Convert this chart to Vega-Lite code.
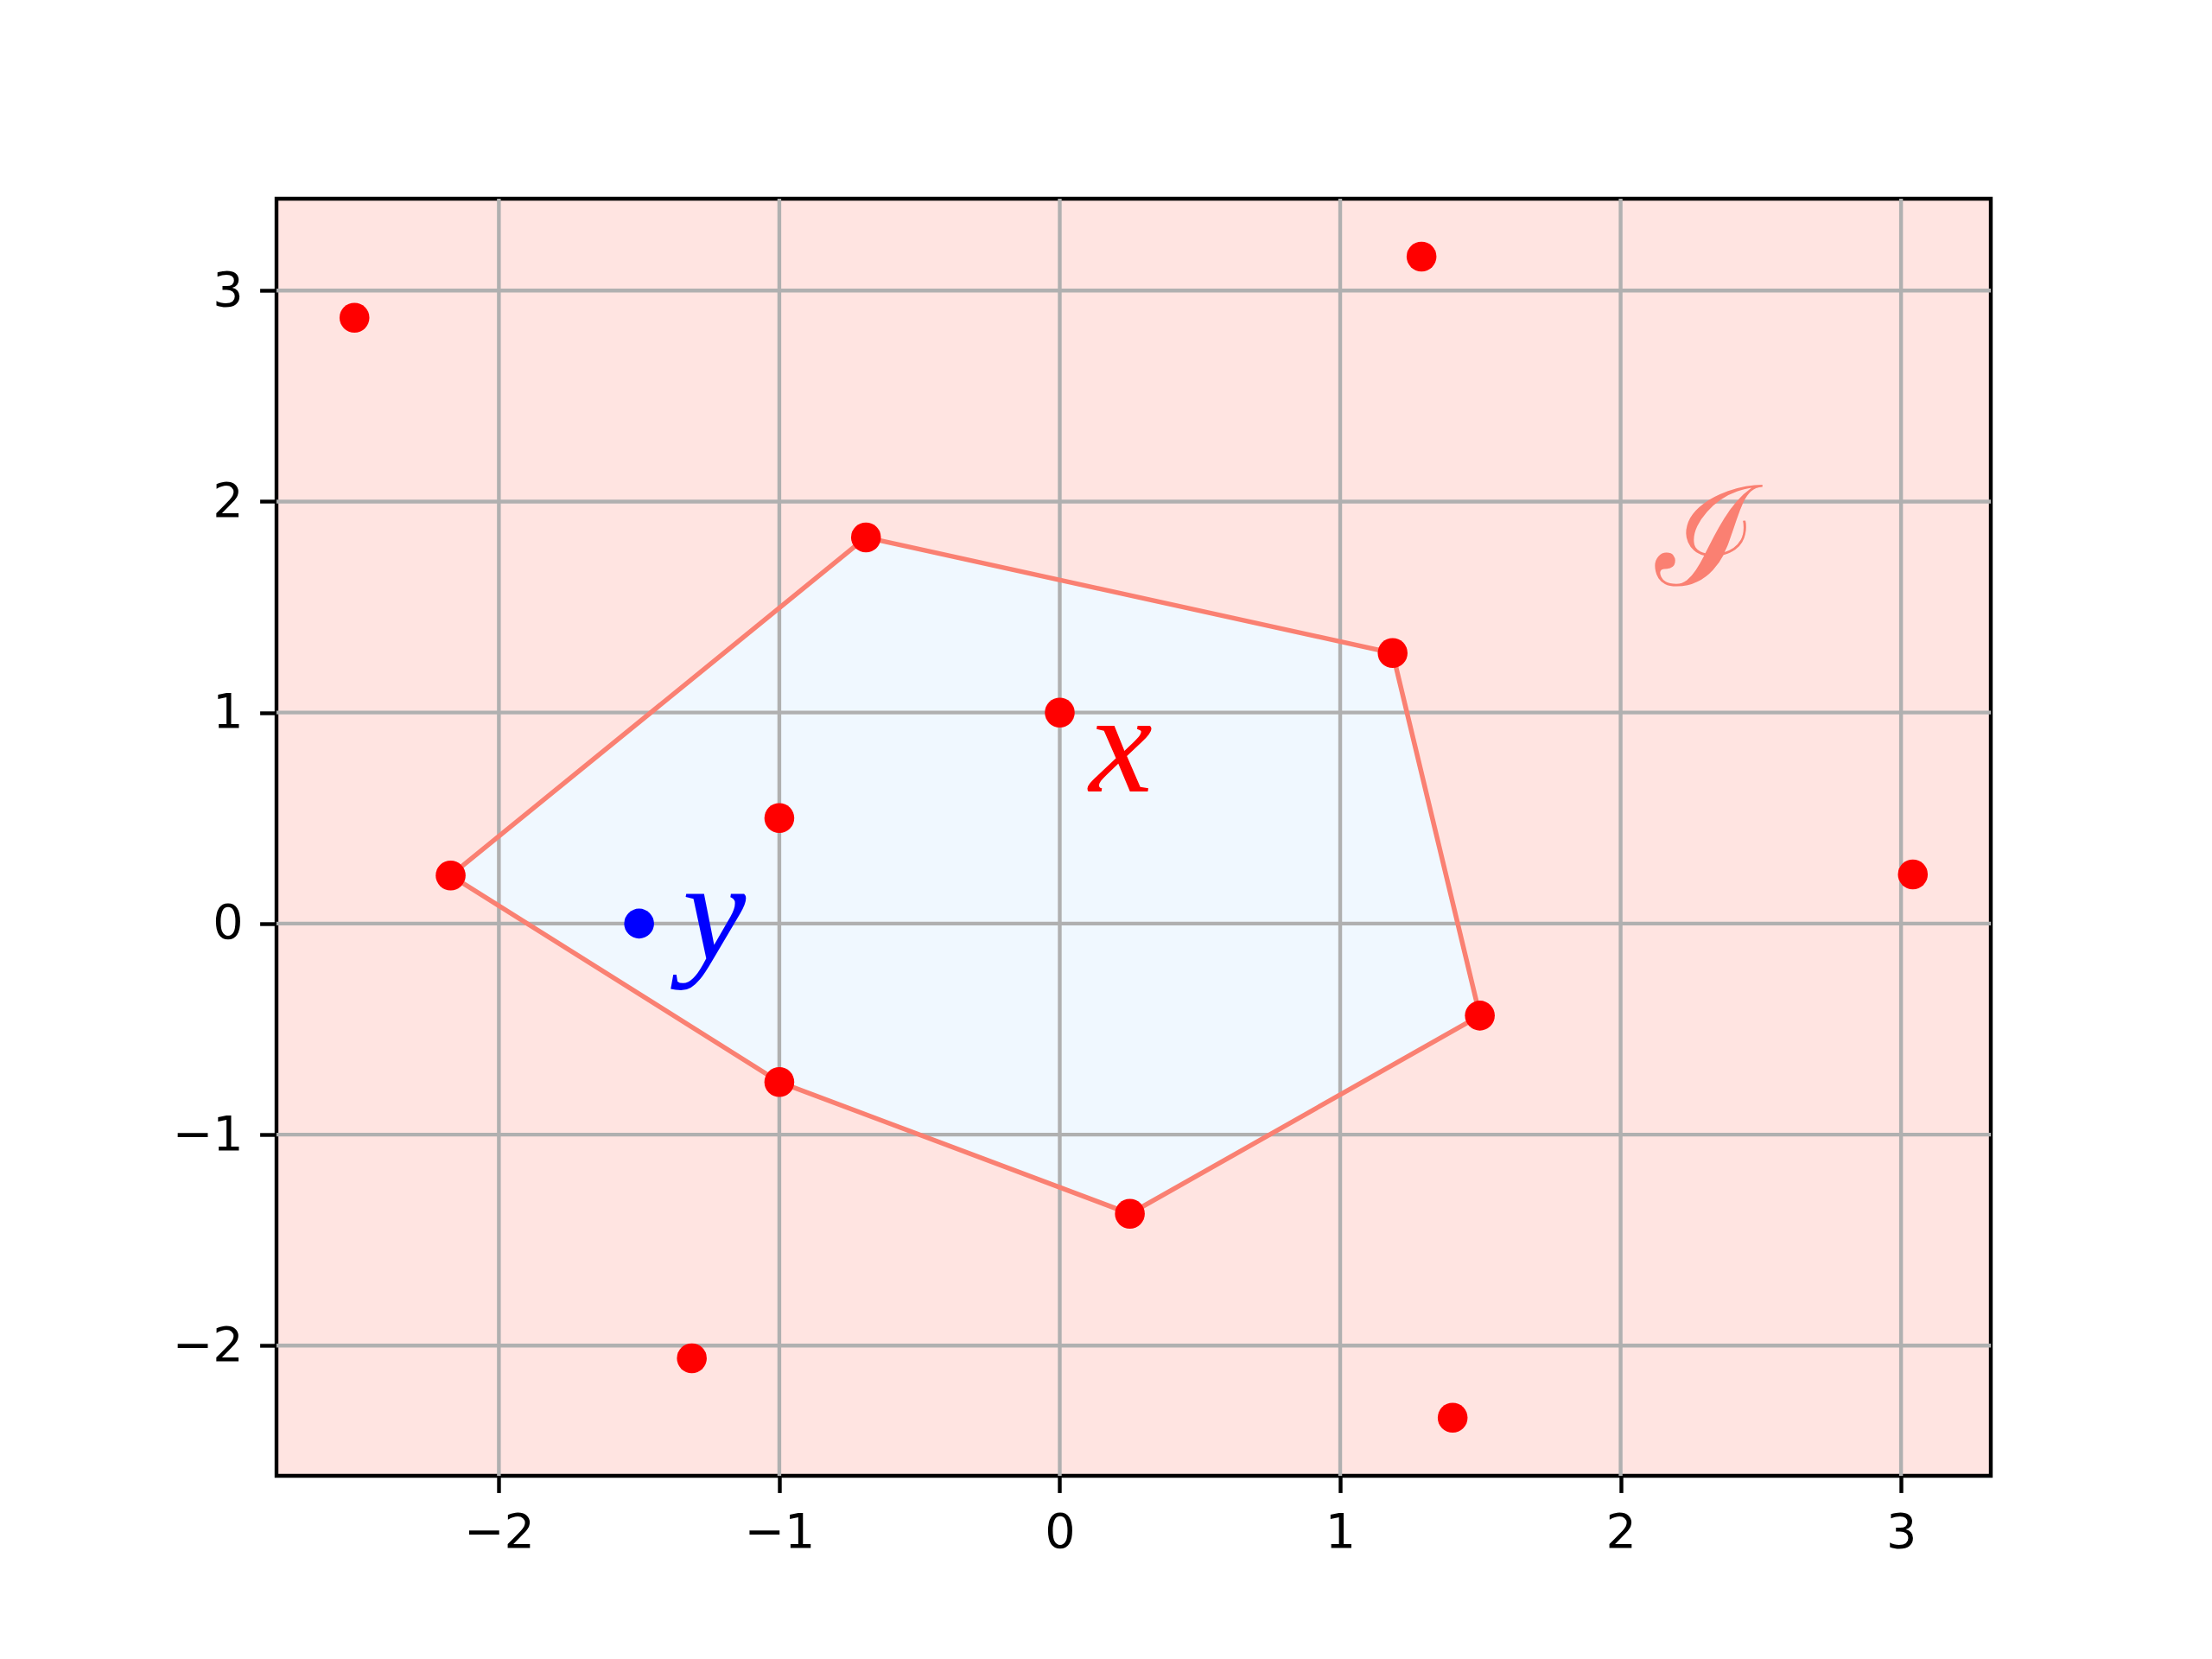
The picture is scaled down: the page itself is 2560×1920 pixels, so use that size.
{
  "$schema": "https://vega.github.io/schema/vega-lite/v6.json",
  "width": 1984,
  "height": 1478,
  "autosize": {"type": "none"},
  "padding": {"left": 320, "top": 230, "right": 256, "bottom": 212},
  "background": "white",
  "config": {
    "view": {"fill": "#FFE4E1", "stroke": "black", "strokeWidth": 4.4},
    "axis": {
      "grid": false,
      "domain": false,
      "ticks": true,
      "tickSize": 19.4,
      "tickWidth": 4.4,
      "tickColor": "black",
      "labelFont": "DejaVu Sans",
      "labelFontSize": 55.6,
      "labelColor": "black",
      "labelPadding": 19.4,
      "format": "d",
      "title": null
    }
  },
  "datasets": {
    "hull": [
      {"order": 1, "x": -0.691, "y": 1.830},
      {"order": 2, "x": 1.187, "y": 1.282},
      {"order": 3, "x": 1.498, "y": -0.436},
      {"order": 4, "x": 0.250, "y": -1.375},
      {"order": 5, "x": -1.000, "y": -0.751},
      {"order": 6, "x": -2.172, "y": 0.228},
      {"order": 7, "x": -0.691, "y": 1.830}
    ],
    "points": [
      {"x": -2.515, "y": 2.871, "set": "I"},
      {"x": 1.290, "y": 3.161, "set": "I"},
      {"x": -0.691, "y": 1.830, "set": "I"},
      {"x": 1.187, "y": 1.282, "set": "I"},
      {"x": 0.0, "y": 1.0, "set": "I"},
      {"x": -1.0, "y": 0.5, "set": "I"},
      {"x": -2.172, "y": 0.228, "set": "I"},
      {"x": 3.042, "y": 0.233, "set": "I"},
      {"x": 1.498, "y": -0.436, "set": "I"},
      {"x": -1.0, "y": -0.751, "set": "I"},
      {"x": 0.250, "y": -1.375, "set": "I"},
      {"x": -1.312, "y": -2.060, "set": "I"},
      {"x": 1.401, "y": -2.342, "set": "I"},
      {"x": -1.5, "y": 0.0, "set": "y"}
    ],
    "grid": [
      {"v": -2}, {"v": -1}, {"v": 0}, {"v": 1}, {"v": 2}, {"v": 3}
    ],
    "labels": [
      {"x": 0.218, "y": 0.627, "text": "x"},
      {"x": -1.232, "y": -0.171, "text": "y"},
      {"x": 2.307, "y": 1.606, "text": "ℐ"}
    ]
  },
  "layer": [
    {
      "data": {"name": "hull"},
      "mark": {"type": "line", "fill": "#F0F8FF", "stroke": null, "strokeWidth": 0},
      "encoding": {
        "x": {"field": "x", "type": "quantitative", "scale": {"domain": [-2.793, 3.320], "nice": false, "zero": false}, "axis": {"values": [-2, -1, 0, 1, 2, 3]}},
        "y": {"field": "y", "type": "quantitative", "scale": {"domain": [-2.617, 3.435], "nice": false, "zero": false}, "axis": {"values": [-2, -1, 0, 1, 2, 3]}},
        "order": {"field": "order", "type": "quantitative"}
      }
    },
    {
      "data": {"name": "grid"},
      "mark": {"type": "rule", "color": "#b0b0b0", "strokeWidth": 4.4},
      "encoding": {"x": {"field": "v", "type": "quantitative"}}
    },
    {
      "data": {"name": "grid"},
      "mark": {"type": "rule", "color": "#b0b0b0", "strokeWidth": 4.4},
      "encoding": {"y": {"field": "v", "type": "quantitative"}}
    },
    {
      "data": {"name": "hull"},
      "mark": {"type": "line", "color": "#FA8072", "strokeWidth": 5.5},
      "encoding": {
        "x": {"field": "x", "type": "quantitative"},
        "y": {"field": "y", "type": "quantitative"},
        "order": {"field": "order", "type": "quantitative"}
      }
    },
    {
      "data": {"name": "points"},
      "mark": {"type": "circle", "size": 1195, "opacity": 1},
      "encoding": {
        "x": {"field": "x", "type": "quantitative"},
        "y": {"field": "y", "type": "quantitative"},
        "color": {"field": "set", "type": "nominal", "scale": {"domain": ["I", "y"], "range": ["#FF0000", "#0000FF"]}, "legend": null}
      }
    },
    {
      "data": {"name": "labels"},
      "transform": [{"filter": "datum.text === 'x'"}],
      "mark": {"type": "text", "font": "Liberation Serif", "fontStyle": "italic", "fontSize": 165, "color": "#FF0000", "align": "center", "baseline": "alphabetic"},
      "encoding": {
        "x": {"field": "x", "type": "quantitative"},
        "y": {"field": "y", "type": "quantitative"},
        "text": {"field": "text"}
      }
    },
    {
      "data": {"name": "labels"},
      "transform": [{"filter": "datum.text === 'y'"}],
      "mark": {"type": "text", "font": "Liberation Serif", "fontStyle": "italic", "fontSize": 165, "color": "#0000FF", "align": "center", "baseline": "alphabetic"},
      "encoding": {
        "x": {"field": "x", "type": "quantitative"},
        "y": {"field": "y", "type": "quantitative"},
        "text": {"field": "text"}
      }
    },
    {
      "data": {"name": "labels"},
      "transform": [{"filter": "datum.text === 'ℐ'"}],
      "mark": {"type": "text", "font": "DejaVu Serif", "fontSize": 160, "color": "#FA8072", "align": "center", "baseline": "alphabetic"},
      "encoding": {
        "x": {"field": "x", "type": "quantitative"},
        "y": {"field": "y", "type": "quantitative"},
        "text": {"field": "text"}
      }
    }
  ]
}
